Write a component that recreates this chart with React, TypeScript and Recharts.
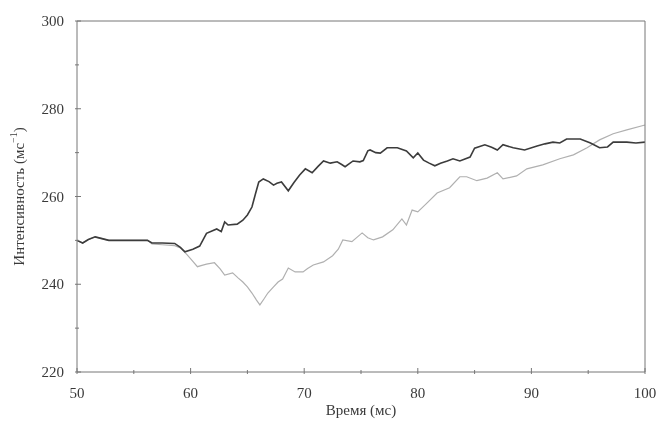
import React from 'react';
import { LineChart, Line, XAxis, YAxis } from 'recharts';

// time (ms) and intensity (ms^-1) for the dark curve
const darkTime = [
  50, 50.5, 51, 51.6, 52.2, 52.8, 54, 55, 56.2, 56.6, 57.5, 58.6, 59.1, 59.5, 60.2, 60.8,
  61.4, 62.3, 62.7, 63, 63.3, 64.1, 64.6, 65, 65.4, 65.7, 66, 66.4, 66.9, 67.3, 67.6, 68,
  68.6, 69.1, 69.6, 70.1, 70.7, 71.2, 71.7, 72.3, 72.9, 73.3, 73.6, 74.3, 74.9, 75.2, 75.6,
  75.8, 76.3, 76.7, 77.3, 78.2, 79, 79.6, 80, 80.5, 81, 81.5, 82, 82.6, 83.1, 83.7, 84.6,
  85, 85.9, 86.5, 87, 87.5, 88.4, 89.4, 90.5, 91.2, 91.9, 92.5, 93.1, 94.3, 95.2, 96, 96.7,
  97.2, 98.4, 99.2, 100,
];
const darkValues = [
  250, 249.4, 250.2, 250.8, 250.4, 250, 250, 250, 250, 249.4, 249.4, 249.3, 248.4, 247.4,
  248, 248.7, 251.6, 252.6, 252, 254.2, 253.5, 253.7, 254.6, 255.8, 257.6, 260.5, 263.3,
  264, 263.4, 262.6, 263, 263.3, 261.3, 263.2, 264.9, 266.3, 265.4, 266.8, 268.1, 267.6,
  267.9, 267.3, 266.8, 268.1, 267.9, 268.2, 270.4, 270.6, 270, 269.9, 271.1, 271.1, 270.4,
  268.8, 269.9, 268.3, 267.6, 267, 267.6, 268.1, 268.6, 268.1, 269, 271, 271.8, 271.2,
  270.6, 271.8, 271.1, 270.6, 271.5, 272, 272.4, 272.2, 273.1, 273.1, 272.2, 271.1, 271.3,
  272.4, 272.4, 272.2, 272.4,
];

// time (ms) and intensity (ms^-1) for the light curve
const lightTime = [
  50, 50.5, 51, 51.6, 52.2, 52.8, 54, 55, 56.2, 56.6, 57.5, 58.6, 59.1, 59.7, 60.2, 60.6,
  61, 61.4, 62.1, 62.6, 63, 63.7, 64.2, 64.6, 65, 65.4, 65.8, 66.1, 66.5, 66.8, 67.3, 67.7,
  68.1, 68.6, 69.2, 69.9, 70.3, 70.8, 71.7, 72.5, 73, 73.4, 74.2, 75.1, 75.6, 76.1, 76.9,
  77.8, 78.6, 79, 79.5, 80, 80.8, 81.7, 82.8, 83.7, 84.3, 85.2, 86.1, 87, 87.5, 88.7, 89.6,
  91, 92.5, 93.7, 94.9, 96, 97.2, 98.4, 100,
];
const lightValues = [
  250, 249.4, 250.2, 250.8, 250.4, 250, 250, 250, 250, 249.2, 249, 248.8, 248.3, 246.7,
  245.2, 244, 244.3, 244.6, 244.9, 243.5, 242.1, 242.6, 241.4, 240.5, 239.4, 238, 236.4,
  235.3, 236.8, 238, 239.4, 240.5, 241.2, 243.7, 242.8, 242.8, 243.6, 244.4, 245.1, 246.5,
  248, 250.1, 249.7, 251.7, 250.6, 250.1, 250.8, 252.4, 254.9, 253.5, 256.9, 256.5, 258.5,
  260.8, 262, 264.5, 264.5, 263.6, 264.2, 265.4, 264, 264.7, 266.3, 267.2, 268.6, 269.5,
  271.1, 272.9, 274.3, 275.2, 276.3,
];

const xTicks = [50, 55, 60, 65, 70, 75, 80, 85, 90, 95, 100];
const yTicks = [220, 230, 240, 250, 260, 270, 280, 290, 300];
const xMajor = [50, 60, 70, 80, 90, 100];
const yMajor = [220, 240, 260, 280, 300];

const darkData = darkTime.map((t, i) => ({ t, v: darkValues[i] }));
const lightData = lightTime.map((t, i) => ({ t, v: lightValues[i] }));

const FONT = "'Liberation Serif', 'DejaVu Serif', serif";
const AXIS = '#777';
const TEXT = '#3a3a3a';
const textStyle = { fontFamily: FONT, fontSize: 15 };

const makeXTick = (dir: number, showLabel: boolean) => (props: any) => {
  const { x, y, payload } = props;
  const major = xMajor.includes(payload.value);
  const len = major ? 6 : 4;
  return (
    <g>
      <line x1={x} y1={y} x2={x} y2={y - dir * len} stroke={AXIS} strokeWidth={1} />
      {showLabel && major && (
        <text x={x} y={y + 24} textAnchor="middle" style={textStyle} fill={TEXT}>
          {payload.value}
        </text>
      )}
    </g>
  );
};

const makeYTick = (dir: number, showLabel: boolean) => (props: any) => {
  const { x, y, payload } = props;
  const major = yMajor.includes(payload.value);
  const len = major ? 6 : 4;
  return (
    <g>
      <line x1={x} y1={y} x2={x + dir * len} y2={y} stroke={AXIS} strokeWidth={1} />
      {showLabel && major && (
        <text x={x - 11} y={y + 5} textAnchor="end" style={textStyle} fill={TEXT}>
          {payload.value}
        </text>
      )}
    </g>
  );
};

export default function App() {
  return (
    <div style={{ position: 'fixed', left: 0, top: 0, fontFamily: FONT }}>
      <LineChart width={660} height={424} margin={{ top: 20, right: 14, bottom: 22, left: 37 }}>
        <XAxis
          xAxisId="b"
          dataKey="t"
          type="number"
          domain={[50, 100]}
          ticks={xTicks}
          interval={0}
          height={30}
          tickSize={0}
          tickLine={false}
          axisLine={{ stroke: AXIS }}
          tick={makeXTick(1, true)}
          allowDuplicatedCategory={false}
          label={{
            content: (p: any) => (
              <text
                x={p.viewBox.x + p.viewBox.width / 2}
                y={p.viewBox.y + 43}
                textAnchor="middle"
                style={textStyle}
                fill={TEXT}
              >
                Время (мс)
              </text>
            ),
          }}
        />
        <XAxis
          xAxisId="t"
          orientation="top"
          dataKey="t"
          type="number"
          domain={[50, 100]}
          ticks={xTicks}
          interval={0}
          height={1}
          tickSize={0}
          tickLine={false}
          axisLine={{ stroke: AXIS }}
          tick={makeXTick(-1, false)}
          allowDuplicatedCategory={false}
        />
        <YAxis
          yAxisId="l"
          type="number"
          domain={[220, 300]}
          ticks={yTicks}
          interval={0}
          width={40}
          tickSize={0}
          tickLine={false}
          axisLine={{ stroke: AXIS }}
          tick={makeYTick(1, true)}
          label={{
            content: (p: any) => {
              const cy = p.viewBox.y + p.viewBox.height / 2;
              const cx = 21;
              return (
                <text
                  x={cx}
                  y={cy}
                  transform={`rotate(-90 ${cx} ${cy})`}
                  textAnchor="middle"
                  dominantBaseline="middle"
                  style={textStyle}
                  fill={TEXT}
                >
                  Интенсивность (мс
                  <tspan fontSize={10} dy={-6}>−1</tspan>
                  <tspan dy={6}>)</tspan>
                </text>
              );
            },
          }}
        />
        <YAxis
          yAxisId="r"
          orientation="right"
          type="number"
          domain={[220, 300]}
          ticks={yTicks}
          interval={0}
          width={1}
          tickSize={0}
          tickLine={false}
          axisLine={{ stroke: AXIS }}
          tick={makeYTick(-1, false)}
        />
        <Line
          xAxisId="b"
          yAxisId="l"
          data={lightData}
          dataKey="v"
          type="linear"
          stroke="#b0b0b0"
          strokeWidth={1.2}
          dot={false}
          isAnimationActive={false}
        />
        <Line
          xAxisId="b"
          yAxisId="l"
          data={darkData}
          dataKey="v"
          type="linear"
          stroke="#3c3c3c"
          strokeWidth={1.6}
          dot={false}
          isAnimationActive={false}
        />
      </LineChart>
    </div>
  );
}
